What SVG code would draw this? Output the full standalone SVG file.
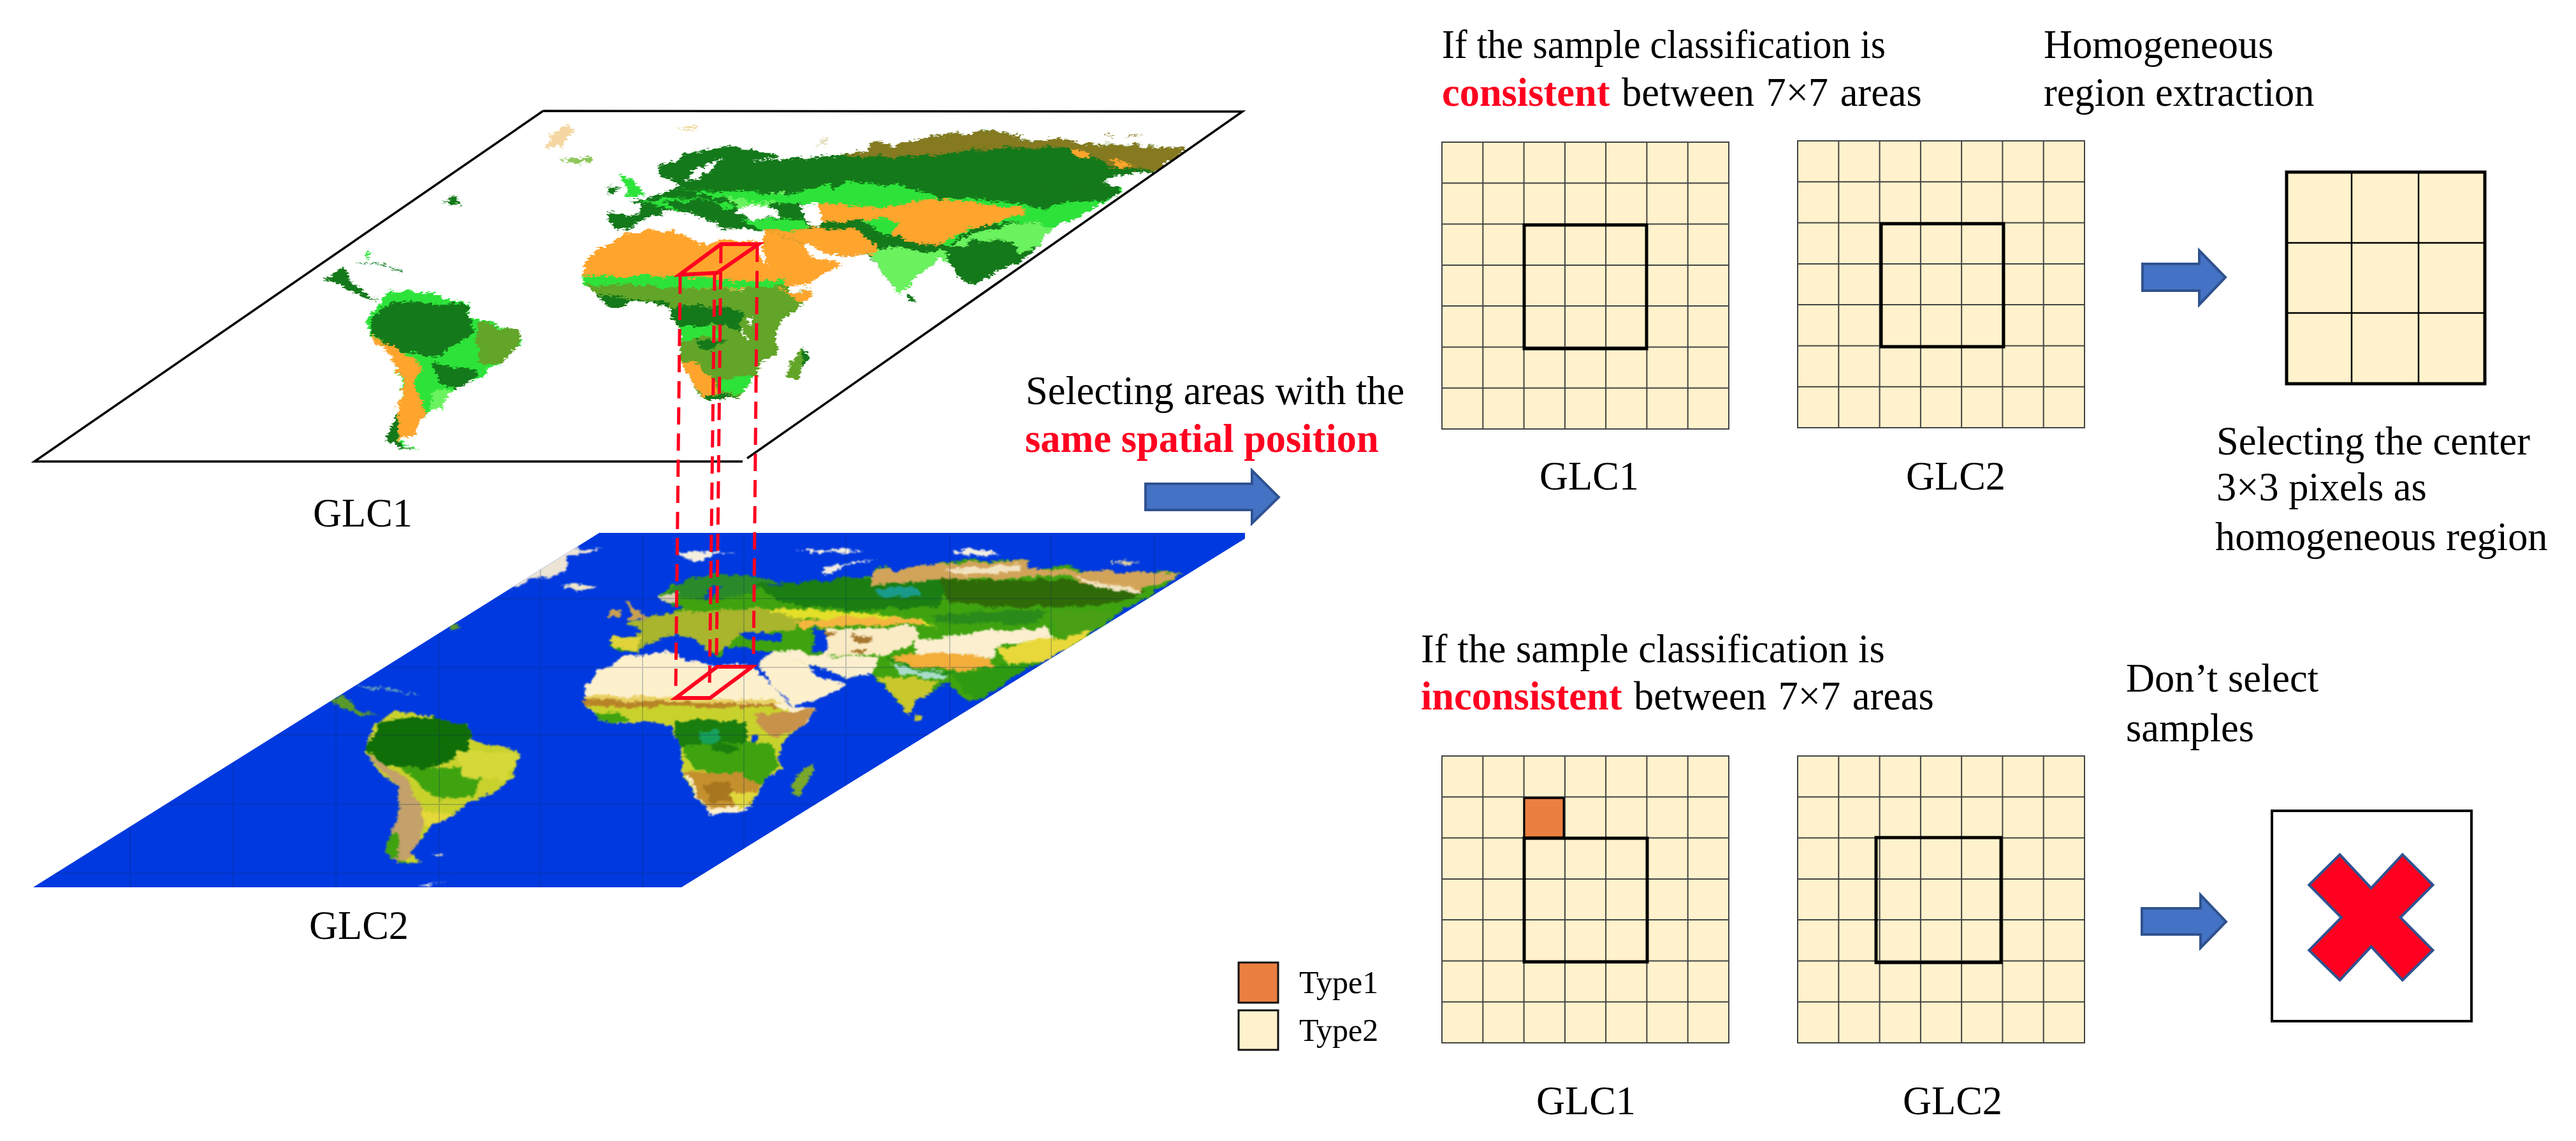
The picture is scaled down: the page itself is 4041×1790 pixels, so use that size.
<svg xmlns="http://www.w3.org/2000/svg" xmlns:xlink="http://www.w3.org/1999/xlink" width="4041" height="1790" viewBox="0 0 4041 1790">
<style>
text{font-family:"Liberation Serif","Times New Roman",serif;font-size:62.4px;fill:#000}
.red{fill:#ff0020;font-weight:700}
.sm{font-size:50px}
.ar{fill:#4472c4;stroke:#2f528f;stroke-width:4}
.cell{fill:#fff2cc;stroke:#444;stroke-width:2}
.bx{fill:none;stroke:#000;stroke-width:5}
.dash{fill:none;stroke:#ff0020;stroke-width:5;stroke-dasharray:27 14}
.redbox{fill:none;stroke:#ff0020;stroke-width:6;stroke-linejoin:miter}
.g1{fill:#14791a}.g2{fill:#2de33a}.g3{fill:#6bf25f}.g4{fill:#62a528}.or{fill:#ffa52d}.ol{fill:#857a20}
.sea1{fill:#fff}.sea2{fill:#0039df}
.gl{stroke:#0a2a60;stroke-width:2;opacity:.22;fill:none}
</style>
<defs>
<filter id="rough1" filterUnits="userSpaceOnUse" x="0" y="130" width="2000" height="620" color-interpolation-filters="sRGB">
<feTurbulence type="fractalNoise" baseFrequency="0.035 0.07" numOctaves="2" seed="4" result="n"/>
<feDisplacementMap in="SourceGraphic" in2="n" scale="14" xChannelSelector="R" yChannelSelector="G" result="a"/>
<feTurbulence type="fractalNoise" baseFrequency="0.14 0.3" numOctaves="2" seed="11" result="m"/>
<feDisplacementMap in="a" in2="m" scale="12" xChannelSelector="G" yChannelSelector="R"/>
<feGaussianBlur stdDeviation="0.5"/>
</filter>
<filter id="rough2" filterUnits="userSpaceOnUse" x="0" y="810" width="2000" height="620" color-interpolation-filters="sRGB">
<feTurbulence type="fractalNoise" baseFrequency="0.035 0.07" numOctaves="2" seed="9" result="n"/>
<feDisplacementMap in="SourceGraphic" in2="n" scale="12" xChannelSelector="R" yChannelSelector="G" result="a"/>
<feTurbulence type="fractalNoise" baseFrequency="0.12 0.28" numOctaves="2" seed="17" result="m"/>
<feDisplacementMap in="a" in2="m" scale="10" xChannelSelector="G" yChannelSelector="R" result="b"/>
<feGaussianBlur in="b" stdDeviation="1.2"/>
</filter>
<clipPath id="clip1"><polygon points="852,174 1949,175 1167,724 54,724"/></clipPath>
<clipPath id="clip2"><polygon points="940,836 1953,836 1953,845 1069,1392 52,1392"/></clipPath>
<clipPath id="af1"><polygon points="205,635 235,590 300,575 340,570 345,600 400,635 430,625 510,625 510,690 530,740 575,830 570,860 620,860 610,905 560,1000 545,1040 548,1150 520,1190 500,1270 470,1350 400,1375 385,1340 365,1250 345,1180 348,1100 350,1040 330,980 330,930 260,910 215,935 180,890 150,820 150,740 175,670"/></clipPath>
<clipPath id="eu1"><polygon points="205,492 262,490 275,455 245,445 290,410 335,380 350,350 305,320 305,270 345,235 375,200 450,180 540,210 550,225 500,250 560,235 620,235 690,215 730,200 745,155 775,160 780,190 830,150 880,125 980,105 1050,125 1040,150 1120,150 1170,165 1240,170 1380,185 1385,205 1340,260 1310,305 1240,320 1215,350 1255,375 1235,420 1150,530 1115,560 1095,600 1090,640 1040,730 990,770 950,835 920,790 895,720 880,710 830,800 800,890 770,790 745,710 735,690 690,695 640,680 610,640 520,575 470,565 430,560 420,530 380,500 340,480 290,510 265,545 225,575 205,560"/></clipPath>
<clipPath id="af2"><polygon points="205,640 235,595 335,575 350,610 410,640 500,640 510,680 540,740 575,835 630,848 610,900 565,990 550,1050 555,1130 520,1190 510,1240 480,1330 410,1345 395,1300 355,1170 355,1060 340,990 330,925 270,900 215,925 175,885 150,815 155,740 180,670"/></clipPath>
<clipPath id="eu2"><polygon points="205,510 255,505 270,470 240,450 280,420 335,390 360,370 310,345 305,310 350,250 420,215 500,225 560,245 520,270 580,255 620,250 700,225 745,225 745,190 775,180 790,200 840,175 930,145 1065,150 1060,180 1140,175 1190,200 1380,205 1300,330 1250,390 1180,520 1110,600 1060,660 960,810 930,800 900,720 850,790 835,800 815,885 780,770 755,720 745,680 690,700 640,660 530,575 470,555 440,560 430,600 400,560 375,510 340,490 290,530 265,570 230,575 205,560"/></clipPath>
<clipPath id="sa1"><polygon points="480,825 530,835 575,880 580,930 640,985 640,1030 620,1100 590,1170 555,1220 545,1290 530,1300 515,1350 510,1400 490,1420 515,1460 480,1440 475,1400 490,1300 495,1180 480,1090 455,1000 450,950 470,860"/></clipPath>
<clipPath id="sa2"><polygon points="480,730 520,735 575,780 580,830 640,875 630,960 610,1020 575,1060 555,1105 530,1140 520,1180 505,1240 515,1275 490,1275 473,1230 490,1100 490,1000 470,960 450,880 455,800"/></clipPath>
<g id="g7">
<rect class="cell" width="450" height="450"/>
<path class="cell" style="fill:none" d="M64.3,0V450M128.6,0V450M192.9,0V450M257.1,0V450M321.4,0V450M385.7,0V450M0,64.3H450M0,128.6H450M0,192.9H450M0,257.1H450M0,321.4H450M0,385.7H450"/>
</g>
</defs>

<g id="map-glc1">
<g clip-path="url(#clip1)"><g filter="url(#rough1)">
<g transform="translate(800,170) scale(.7653,.3333)">
<g clip-path="url(#af1)">
<rect class="or" x="100" y="550" width="600" height="300"/>
<polygon class="g2" points="140,783 350,792 470,815 560,810 575,850 140,830"/>
<polygon class="g4" points="140,825 350,838 470,852 560,830 630,850 630,1400 140,1400"/>
<polygon class="or" points="570,860 625,860 605,925 575,880 548,840"/>
<polygon class="g1" points="160,880 330,910 325,935 215,940 175,900"/>
<polygon class="g1" points="325,950 350,925 440,935 478,965 465,1035 410,1012 345,1035 325,990"/>
<polygon class="g2" points="345,1030 410,1012 435,1085 395,1075 350,1110"/>
<polygon class="g1" points="380,1095 445,1105 420,1125 385,1125"/>
<polygon class="or" points="345,1190 372,1180 420,1290 428,1342 395,1360 370,1280"/>
<polygon class="g2" points="430,1280 505,1255 490,1315 460,1340 428,1335"/>
<polygon class="g1" points="395,1358 445,1345 470,1350 410,1378"/>
<polygon class="sea1" points="485,985 500,985 498,1015 487,1012"/>
<path d="M470,1030L490,1090" stroke="#fff" stroke-width="5" fill="none"/>
</g>
<polygon class="or" points="515,635 525,570 590,580 605,645 620,690 680,730 660,770 600,830 570,830 530,740"/>
<g clip-path="url(#eu1)">
<rect class="g1" x="190" y="90" width="1220" height="760"/>
<polygon class="ol" points="620,220 750,140 880,110 1060,110 1120,140 1390,170 1390,210 1320,290 1240,280 1180,210 1120,180 1000,190 800,230 700,220"/>
<polygon class="or" points="1150,195 1175,190 1190,235 1160,230"/>
<polygon class="or" points="1230,240 1280,265 1250,285"/>
<polygon class="g1" points="1040,180 1120,185 1170,250 1100,270 1060,230"/>
<polygon class="g3" points="440,420 560,390 575,440 470,465"/>
<polygon class="g2" points="270,440 345,420 440,440 470,470 330,480"/>
<polygon class="g2" points="350,390 470,390 560,405 590,450 470,430"/>
<polygon class="g1" points="310,450 345,430 420,440 445,490 400,490 340,470"/>
<polygon class="g2" points="560,420 600,390 680,345 800,360 860,400 880,420 960,425 1060,450 1090,470 1110,490 1060,540 960,550 920,600 900,650 760,580 700,500 610,460 540,440"/>
<polygon class="g1" points="660,300 690,340 665,390 650,340"/>
<polygon class="or" points="615,455 690,450 760,465 880,420 960,455 1050,465 1060,495 1010,530 960,560 950,555 900,610 880,650 820,630 780,590 800,540 760,520 700,530 640,530"/>
<polygon class="g2" points="470,520 600,520 610,570 520,575"/>
<polygon class="or" points="520,575 600,570 640,560 720,580 750,640 755,690 690,695 640,680 610,640"/>
<polygon class="g3" points="740,690 775,650 900,680 900,730 840,780 800,890 770,790"/>
<polygon class="g3" points="960,580 1080,530 1115,560 1090,640 1030,700 990,660 930,650 900,650"/>
<polygon class="g1" points="895,700 960,620 1020,610 1040,650 1040,730 990,770 950,835 920,780"/>
<path d="M760,590L800,640L850,672L905,680L935,660" stroke="#14791a" stroke-width="8" fill="none"/>
<polygon class="g2" points="1100,470 1150,425 1235,420 1150,530 1115,560 1070,530"/>
<polygon class="g1" points="1090,370 1250,370 1220,430 1120,450"/>
</g>
<polygon class="sea1" points="470,465 525,450 555,490 550,515 490,520 465,495"/>
<polygon class="sea1" points="595,465 630,450 640,500 635,560 610,560 605,510"/>
<polygon class="sea1" points="395,270 435,240 420,280 385,330 360,335 375,300"/>
<polygon class="sea1" points="340,490 385,540 370,550 330,500"/>
<polygon class="sea1" points="600,650 615,645 650,690 665,700 625,705"/>
<polygon class="g2" points="225,320 250,330 272,405 235,410 240,370"/>
<polygon class="g1" points="197,370 225,365 215,400 200,398"/>
<polygon class="g4" points="605,1130 612,1170 590,1272 568,1270 570,1185"/>
<polygon class="g1" points="605,1130 612,1170 600,1230 597,1170"/>
<polygon class="g1" points="818,880 830,885 830,915 820,912"/>
<polygon fill="#8dc65a" points="100,238 165,235 170,250 135,262"/>
<polygon fill="#efc67a" opacity=".7" points="80,140 120,70 135,100 105,180 72,188"/>
<polygon fill="#efdca8" points="340,85 385,80 382,105 360,100"/>
<polygon fill="#e4e0c0" points="625,175 660,135 645,170"/>
<polygon class="ol" points="1215,125 1240,122 1235,135"/><polygon class="ol" points="1260,128 1305,130 1270,134"/>
<polygon class="g2" points="1245,372 1255,378 1248,400"/>
</g>
<g transform="translate(0,130) scale(1.2755,.3954)">
<g clip-path="url(#sa1)">
<rect class="g2" x="440" y="800" width="220" height="680"/>
<polygon class="g1" points="480,870 575,885 582,990 540,1085 490,1065 455,990 460,920"/>
<polygon class="g4" points="590,950 645,985 625,1110 590,1115 585,1020"/>
<polygon class="or" points="450,985 490,1060 522,1130 510,1180 525,1340 510,1400 490,1425 488,1300 497,1180 478,1090"/>
<polygon class="g3" points="530,1220 560,1215 552,1290 530,1300"/>
<polygon class="g1" points="530,1100 590,1150 570,1230 540,1190"/>
<polygon class="g1" points="472,1320 488,1300 490,1430 515,1465 475,1445"/>
</g>
<polygon class="g1" points="400,775 425,725 430,790 465,860 440,840"/>
<polygon class="g1" points="545,470 560,455 570,485 555,482"/>
<path d="M440,718L465,715L495,748" stroke="#2a8a3a" stroke-width="4" fill="none"/>
<polygon class="g2" points="450,665 455,670 452,690"/>
</g>
</g></g>
<path d="M852,174L1949,175L1172,719M1165,724L54,724L852,174" fill="none" stroke="#000" stroke-width="3.5"/>
</g>

<g id="map-glc2">
<polygon class="sea2" points="940,836 1953,836 1953,845 1069,1392 52,1392"/>
<g clip-path="url(#clip2)">
<g filter="url(#rough2)">
<g transform="translate(800,830) scale(.7653,.3333)">
<g clip-path="url(#af2)">
<rect x="100" y="560" width="600" height="800" fill="#fdf0cc"/>
<polygon fill="#e8d060" points="150,780 340,790 540,805 565,825 150,820"/>
<polygon fill="#b88428" points="150,800 340,815 540,830 565,850 150,845"/>
<polygon fill="#c9d22c" points="150,835 560,845 600,880 620,1000 560,1300 340,1300 330,950 220,930"/>
<polygon fill="#3fa30f" points="170,860 230,870 250,900 215,925 175,885"/>
<polygon fill="#c8924a" points="500,870 630,850 590,940 540,990 510,930"/>
<polygon fill="#1a7e0e" points="340,900 480,900 490,1020 420,1040 340,1020"/>
<polygon fill="#17a05a" points="385,960 430,945 430,1000 390,1010"/>
<polygon fill="#3fa30f" points="350,1020 530,1000 552,1100 520,1200 380,1130"/>
<polygon fill="#1a7e0e" points="410,1010 470,1020 450,1060 420,1050"/>
<polygon fill="#c4902e" points="355,1140 470,1150 515,1200 490,1290 400,1320 380,1220"/>
<polygon fill="#a8761e" points="400,1200 450,1190 470,1270 410,1295"/>
<polygon fill="#e0d83a" points="450,1240 510,1240 470,1325"/>
<polygon fill="#fdf0cc" points="353,1130 372,1180 400,1310 375,1230"/>
<polygon class="sea2" points="495,975 510,975 507,1005 495,1003"/>
</g>
<polygon fill="#fdf0cc" points="510,635 535,580 610,610 630,680 690,735 640,790 580,835 540,740"/>
<g clip-path="url(#eu2)">
<rect x="190" y="130" width="1220" height="700" fill="#3fa30f"/>
<polygon fill="#a9b52c" points="205,500 250,440 330,390 560,370 600,420 580,470 470,500 440,570 260,580"/>
<polygon fill="#e0d43a" points="205,510 270,510 260,570 210,565"/>
<polygon fill="#2a8a2a" points="310,320 360,235 460,210 550,240 500,300 430,330"/>
<polygon fill="#d8d0b0" points="305,310 345,300 340,345 310,345"/>
<polygon fill="#1a7e12" points="500,260 700,230 900,240 880,360 700,385 560,350"/>
<polygon fill="#1a9a8a" points="745,280 830,265 850,320 760,320"/>
<polygon fill="#2f6a08" points="880,240 1150,240 1300,290 1260,340 1200,360 1030,370 900,350"/>
<polygon fill="#d2a45a" points="740,200 800,170 1060,150 1100,190 1380,210 1340,250 1280,300 1180,260 1150,220 900,240 740,260"/>
<polygon fill="#f2e3c0" points="890,190 1050,170 1040,200 920,215"/>
<polygon fill="#f2e3c0" points="1160,220 1200,250 1285,285 1290,300 1200,280"/>
<polygon fill="#e4e02a" points="520,370 700,390 850,430 880,460 800,430 580,420"/>
<polygon fill="#2a8a1a" points="860,410 1000,385 1100,380 1080,440 900,450"/>
<polygon fill="#f4b63e" points="580,440 680,415 830,420 850,450 700,450 600,470"/>
<polygon fill="#faebc4" points="650,470 830,460 840,530 770,590 640,600"/>
<polygon fill="#a87830" points="700,500 745,510 730,540 705,530"/><polygon fill="#a87830" points="640,480 670,490 650,510"/><polygon fill="#a87830" points="700,570 730,570 715,590"/>
<polygon fill="#fbefcf" points="830,530 960,480 1100,470 1120,530 1010,540 990,600 830,590"/>
<polygon fill="#f3ae3a" points="780,600 880,580 980,600 990,650 900,665 820,640"/>
<polygon fill="#a8dcc8" points="780,630 900,680 880,710 800,680"/>
<path d="M775,600L820,650L880,680L930,680" stroke="#1a8a1a" stroke-width="8" fill="none"/>
<polygon fill="#fbefcf" points="525,580 590,570 640,600 760,600 740,690 690,700 620,660"/>
<polygon fill="#c8c82c" points="750,700 800,690 880,720 820,890 780,770"/>
<polygon fill="#2e9a12" points="910,690 1040,620 1100,610 1000,770 960,810 930,770"/>
<polygon fill="#e8d83a" points="1000,560 1120,510 1200,480 1100,620 1020,640"/>
<polygon fill="#4aa015" points="1100,390 1240,380 1200,470 1130,520"/>
</g>
<polygon class="sea2" points="470,490 500,480 560,500 555,530 490,530"/>
<polygon class="sea2" points="622,470 645,470 650,540 645,580 620,575 625,520"/>
<polygon class="sea2" points="400,300 435,262 425,300 400,325"/>
<polygon class="sea2" points="340,490 385,550 372,555 330,500"/>
<polygon class="sea2" points="610,650 625,650 665,700 640,705"/>
<polygon fill="#c8a050" points="232,340 255,370 285,420 240,430 250,390"/>
<polygon fill="#c8a050" points="200,385 225,380 225,415 200,418"/>
<polygon fill="#7aa82a" points="620,1105 625,1140 595,1250 578,1240 585,1160"/>
<polygon fill="#c8c82c" points="830,875 842,885 840,910 830,905"/>
<polygon fill="#f0e6c8" points="102,262 175,265 145,290 115,280"/>
<polygon fill="#f5efe0" points="340,110 460,108 420,120 385,148 360,130"/>
<polygon fill="#f5efe0" points="640,190 690,155 755,145 690,165 660,205 640,210"/>
<polygon fill="#f5efe0" points="585,105 680,92 730,100 640,112"/>
<polygon fill="#f5efe0" points="905,100 950,98 1010,125 930,122"/>
<polygon fill="#e0d0a0" points="1230,155 1290,155 1260,170"/>
<polygon fill="#ece4d4" points="0,280 60,230 115,200 120,130 190,95 130,90 85,130 0,260"/>
</g>
<g transform="translate(0,800) scale(1.2755,.4337)">
<g clip-path="url(#sa2)">
<rect x="440" y="720" width="220" height="570" fill="#c9d22c"/>
<polygon fill="#0f6e07" points="470,760 545,745 580,790 575,870 530,935 470,925 450,860"/>
<polygon fill="#3fa30f" points="490,930 600,940 580,1040 540,1050"/>
<polygon fill="#d6d83a" points="560,870 640,880 620,980 570,970"/>
<polygon fill="#c4a06a" points="445,870 500,970 522,1100 512,1240 490,1280 470,1240 490,1100 490,1000"/>
<polygon fill="#3fa30f" points="470,1180 490,1170 490,1280 510,1280 470,1240"/>
<polygon fill="#e4d83a" points="520,1080 560,1105 530,1145 520,1140"/>
</g>
<polygon fill="#5a9a2a" points="405,690 425,675 440,720 465,750 430,730"/>
<polygon fill="#5a9a2a" points="555,410 568,425 565,430 550,430"/>
<polygon fill="#e8e0c0" points="530,1245 548,1242 540,1255"/>
<polygon fill="#f5efe0" points="515,1365 560,1330 535,1350 530,1365"/>
<path d="M440,630L470,650L520,670" stroke="#8cc8a8" stroke-width="3" fill="none"/>
</g>
</g>
<path class="gl" d="M204,836V1392M366,836V1392M527,836V1392M689,836V1392M848,836V1392M1008,836V1392M1167,836V1392M1327,836V1392M1490,836V1392M1649,836V1392M1811,836V1392M52,939H1953M52,1047H1953M52,1153H1953M52,1262H1953M52,1370H1953"/>
</g>
</g>

<g id="connectors">
<path class="dash" d="M1067,434L1060,1082"/>
<path class="dash" d="M1121,429L1113,1080"/>
<path class="dash" d="M1131,386L1124,1032"/>
<path class="dash" d="M1188,384L1182,1032"/>
<polygon class="redbox" points="1131,383 1190,383 1125,428 1066,431"/>
<polygon class="redbox" points="1125,1046 1180,1046 1114,1095 1060,1095"/>
<polygon class="ar" points="1797,759 1964,759 1964,738 2006,780 1964,821 1964,800 1797,800"/>
<polygon class="ar" points="3361,414 3450,414 3450,393 3491,435 3450,478 3450,456 3361,456"/>
<polygon class="ar" points="3360,1425 3452,1425 3452,1404 3492,1446 3452,1487 3452,1466 3360,1466"/>
</g>

<g id="label-glc1"><text x="491" y="826">GLC1</text></g>
<g id="label-glc2"><text x="485" y="1473">GLC2</text></g>
<g id="label-select"><text x="1609" y="634">Selecting areas with the</text><text x="1608" y="709" class="red">same spatial position</text></g>

<g id="top-caption"><text x="2262" y="91" textLength="696" lengthAdjust="spacingAndGlyphs">If the sample classification is</text><text x="2262" y="166" word-spacing="3"><tspan class="red">consistent</tspan> between 7×7 areas</text></g>
<g id="top-grid1"><use href="#g7" x="2262" y="223"/><rect class="bx" x="2391" y="353" width="192" height="194"/><text x="2415" y="768">GLC1</text></g>
<g id="top-grid2"><use href="#g7" x="2820" y="221"/><rect class="bx" x="2951" y="351" width="192" height="193"/><text x="2990" y="768">GLC2</text></g>
<g id="homog-caption"><text x="3206" y="91">Homogeneous</text><text x="3206" y="166">region extraction</text></g>
<g id="result-3x3"><rect x="3587" y="270" width="311" height="332" fill="#fff2cc" stroke="#000" stroke-width="5"/><path d="M3689,270V602M3794,270V602M3587,381H3898M3587,491H3898" stroke="#000" stroke-width="2.5" fill="none"/></g>
<g id="select-caption"><text x="3477" y="713">Selecting the center</text><text x="3477" y="785">3×3 pixels as</text><text x="3475" y="863">homogeneous region</text></g>

<g id="bottom-caption"><text x="2229" y="1039">If the sample classification is</text><text x="2229" y="1113" word-spacing="3"><tspan class="red">inconsistent</tspan> between 7×7 areas</text></g>
<g id="bottom-grid1"><use href="#g7" x="2262" y="1186"/><rect x="2391" y="1252" width="62" height="62" fill="#ea7f40" stroke="#000" stroke-width="3"/><rect class="bx" x="2391" y="1315" width="193" height="194"/><text x="2410" y="1748">GLC1</text></g>
<g id="bottom-grid2"><use href="#g7" x="2820" y="1186"/><rect class="bx" x="2943" y="1314" width="196" height="196"/><text x="2985" y="1748">GLC2</text></g>
<g id="noselect-caption"><text x="3335" y="1085">Don’t select</text><text x="3335" y="1163">samples</text></g>
<g id="reject"><rect x="3564" y="1272" width="313" height="330" fill="#fff" stroke="#000" stroke-width="4"/>
<polygon points="3670.5,1340.7 3719.6,1393.3 3768.8,1340.7 3816.5,1388.3 3765.6,1439.3 3816.5,1490.7 3768.8,1537.7 3719.6,1485 3670.5,1537.7 3622.3,1490.7 3672.8,1439.3 3622.3,1388.3" fill="#ff0020" stroke="#2f528f" stroke-width="4"/></g>

<g id="legend"><rect x="1943" y="1510" width="62" height="63" fill="#ea7f40" stroke="#111" stroke-width="3"/><text x="2038" y="1558" class="sm">Type1</text><rect x="1943" y="1585" width="62" height="62" fill="#fff2cc" stroke="#111" stroke-width="3"/><text x="2038" y="1633" class="sm">Type2</text></g>
</svg>
